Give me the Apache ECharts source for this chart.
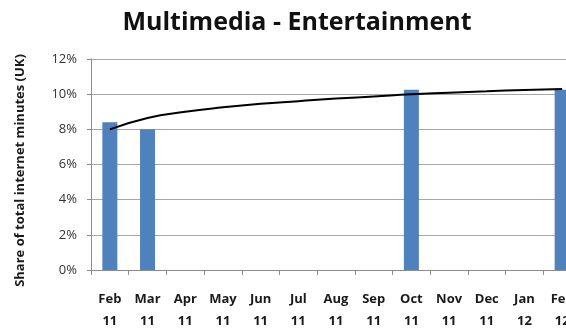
<!DOCTYPE html>
<html>
<head>
<meta charset="utf-8">
<script src="https://cdn.jsdelivr.net/npm/echarts@6/dist/echarts.min.js"></script>
<style>
  html, body { margin: 0; padding: 0; background: #ffffff; overflow: hidden; }
  /* The plot runs past the right edge of the page, so the last bar is cut off */
  #chart { width: 581px; height: 332px; }
</style>
</head>
<body>
<div id="chart"></div>
<script>
// Monthly categories, Feb 2011 to Feb 2012
const months = ['Feb\n11', 'Mar\n11', 'Apr\n11', 'May\n11', 'Jun\n11', 'Jul\n11', 'Aug\n11',
                'Sep\n11', 'Oct\n11', 'Nov\n11', 'Dec\n11', 'Jan\n12', 'Feb\n12'];
// Share of total internet minutes (%), only measured months have a value
const shareValues = [8.4, 8.0, null, null, null, null, null, null, 10.25, null, null, null, 10.25];
// Logarithmic trend line through the measured months (%)
const trendValues = [8.0, 8.65, 9.0, 9.25, 9.45, 9.6, 9.75, 9.87, 10.0, 10.08, 10.16, 10.24, 10.3];
// Y axis ticks (%)
const yTicks = [0, 2, 4, 6, 8, 10, 12];

const chart = echarts.init(document.getElementById('chart'), null, { renderer: 'canvas' });

chart.setOption({
  animation: false,
  backgroundColor: '#ffffff',
  title: {
    text: 'Multimedia - Entertainment',
    left: 292,
    textAlign: 'center',
    top: 5,
    textStyle: { fontFamily: 'Open Sans', fontWeight: 'bold', fontSize: 25, color: '#111111' }
  },
  grid: { left: 91, right: 0, top: 59, bottom: 61, containLabel: false },
  xAxis: {
    type: 'category',
    data: months,
    boundaryGap: true,
    axisLine: { show: true, lineStyle: { color: '#8c8c8c', width: 1 } },
    axisTick: { show: true, alignWithLabel: false, length: 5, lineStyle: { color: '#8c8c8c' } },
    axisLabel: {
      interval: 0,
      margin: 18,
      fontFamily: 'Open Sans',
      fontWeight: 'bold',
      fontSize: 13,
      lineHeight: 22,
      color: '#1a1a1a'
    },
    splitLine: { show: false }
  },
  yAxis: {
    type: 'value',
    min: yTicks[0],
    max: yTicks[yTicks.length - 1],
    interval: 2,
    name: 'Share of total internet minutes (UK)',
    nameLocation: 'middle',
    nameGap: 64,
    nameRotate: 90,
    nameTextStyle: {
      fontFamily: 'Open Sans', fontWeight: 'bold', fontSize: 13, color: '#1a1a1a',
      padding: [0, 12, 0, 0]
    },
    axisLine: { show: true, lineStyle: { color: '#8c8c8c', width: 1 } },
    axisTick: { show: true, length: 4, lineStyle: { color: '#8c8c8c' } },
    axisLabel: {
      formatter: v => v + '%',
      margin: 14,
      fontFamily: 'Open Sans',
      fontSize: 13,
      color: '#333333'
    },
    splitLine: { show: true, lineStyle: { color: '#a6a6a6', width: 1 } }
  },
  series: [
    {
      name: 'Share',
      type: 'bar',
      data: shareValues,
      barWidth: 15,
      itemStyle: { color: '#4f81bd' },
      z: 2
    },
    {
      name: 'Trend',
      type: 'line',
      data: trendValues,
      smooth: true,
      symbol: 'none',
      lineStyle: { color: '#000000', width: 2 },
      z: 3
    }
  ]
});
</script>
</body>
</html>
